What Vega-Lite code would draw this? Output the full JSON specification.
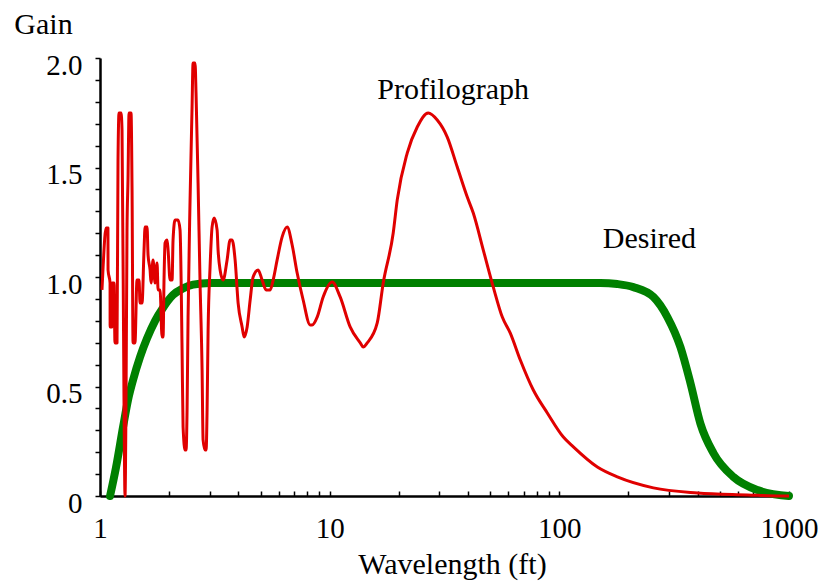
{
  "$schema": "https://vega.github.io/schema/vega-lite/v6.json",
  "width": 689,
  "height": 438,
  "autosize": {"type": "none"},
  "padding": {"left": 100, "top": 58, "right": 33, "bottom": 87},
  "background": "white",
  "config": {"view": {"stroke": null}, "font": "Liberation Serif"},
  "datasets": {
    "green": [
      {"x": 1.106, "y": 0},
      {"x": 1.174, "y": 0.13},
      {"x": 1.26, "y": 0.315},
      {"x": 1.324, "y": 0.438},
      {"x": 1.393, "y": 0.53},
      {"x": 1.494, "y": 0.635},
      {"x": 1.603, "y": 0.72},
      {"x": 1.737, "y": 0.8},
      {"x": 1.882, "y": 0.86},
      {"x": 2.08, "y": 0.918},
      {"x": 2.3, "y": 0.948},
      {"x": 2.542, "y": 0.965},
      {"x": 3.015, "y": 0.973},
      {"x": 150.9, "y": 0.973},
      {"x": 178.9, "y": 0.968},
      {"x": 210.1, "y": 0.954},
      {"x": 256.8, "y": 0.909},
      {"x": 295.5, "y": 0.817},
      {"x": 336.7, "y": 0.68},
      {"x": 372.2, "y": 0.516},
      {"x": 411.6, "y": 0.33},
      {"x": 468.8, "y": 0.196},
      {"x": 573.2, "y": 0.087},
      {"x": 729.2, "y": 0.027},
      {"x": 1000, "y": 0}
    ],
    "red": [
      {"i": 1, "x": 1.02, "y": 0.941},
      {"i": 2, "x": 1.031, "y": 1.041},
      {"i": 3, "x": 1.062, "y": 1.224},
      {"i": 4, "x": 1.083, "y": 1.224},
      {"i": 5, "x": 1.084, "y": 1.032},
      {"i": 6, "x": 1.106, "y": 0.973},
      {"i": 7, "x": 1.107, "y": 0.772},
      {"i": 8, "x": 1.128, "y": 0.772},
      {"i": 9, "x": 1.129, "y": 0.973},
      {"i": 10, "x": 1.151, "y": 0.973},
      {"i": 11, "x": 1.162, "y": 0.699},
      {"i": 12, "x": 1.186, "y": 0.699},
      {"i": 13, "x": 1.198, "y": 1.534},
      {"i": 14, "x": 1.21, "y": 1.749},
      {"i": 15, "x": 1.235, "y": 1.749},
      {"i": 16, "x": 1.247, "y": 1.671},
      {"i": 17, "x": 1.272, "y": 0.438},
      {"i": 18, "x": 1.285, "y": 0},
      {"i": 19, "x": 1.298, "y": 0.438},
      {"i": 20, "x": 1.311, "y": 1.215},
      {"i": 21, "x": 1.324, "y": 1.443},
      {"i": 22, "x": 1.338, "y": 1.749},
      {"i": 23, "x": 1.365, "y": 1.749},
      {"i": 24, "x": 1.379, "y": 1.397},
      {"i": 25, "x": 1.393, "y": 0.699},
      {"i": 26, "x": 1.42, "y": 0.699},
      {"i": 27, "x": 1.449, "y": 0.986},
      {"i": 28, "x": 1.479, "y": 0.986},
      {"i": 29, "x": 1.494, "y": 0.881},
      {"i": 30, "x": 1.524, "y": 0.881},
      {"i": 31, "x": 1.555, "y": 1.123},
      {"i": 32, "x": 1.571, "y": 1.228},
      {"i": 33, "x": 1.603, "y": 1.228},
      {"i": 34, "x": 1.619, "y": 1.1},
      {"i": 35, "x": 1.652, "y": 1.032},
      {"i": 36, "x": 1.668, "y": 0.973},
      {"i": 37, "x": 1.702, "y": 1.078},
      {"i": 38, "x": 1.737, "y": 0.973},
      {"i": 39, "x": 1.772, "y": 1.064},
      {"i": 40, "x": 1.79, "y": 0.941},
      {"i": 41, "x": 1.826, "y": 0.941},
      {"i": 42, "x": 1.863, "y": 0.726},
      {"i": 43, "x": 1.882, "y": 0.726},
      {"i": 44, "x": 1.901, "y": 1.0},
      {"i": 45, "x": 1.92, "y": 1.155},
      {"i": 46, "x": 1.959, "y": 1.169},
      {"i": 47, "x": 1.979, "y": 1.123},
      {"i": 48, "x": 2.019, "y": 0.986},
      {"i": 49, "x": 2.06, "y": 0.986},
      {"i": 50, "x": 2.08, "y": 1.169},
      {"i": 51, "x": 2.122, "y": 1.26},
      {"i": 52, "x": 2.187, "y": 1.26},
      {"i": 53, "x": 2.231, "y": 1.215},
      {"i": 54, "x": 2.277, "y": 0.667},
      {"i": 55, "x": 2.3, "y": 0.315},
      {"i": 56, "x": 2.347, "y": 0.21},
      {"i": 57, "x": 2.37, "y": 0.21},
      {"i": 58, "x": 2.394, "y": 0.393},
      {"i": 59, "x": 2.418, "y": 0.817},
      {"i": 60, "x": 2.467, "y": 1.352},
      {"i": 61, "x": 2.517, "y": 1.776},
      {"i": 62, "x": 2.542, "y": 1.977},
      {"i": 63, "x": 2.593, "y": 1.977},
      {"i": 64, "x": 2.619, "y": 1.84},
      {"i": 65, "x": 2.673, "y": 1.429},
      {"i": 66, "x": 2.727, "y": 0.973},
      {"i": 67, "x": 2.783, "y": 0.575},
      {"i": 68, "x": 2.811, "y": 0.256},
      {"i": 69, "x": 2.868, "y": 0.21},
      {"i": 70, "x": 2.897, "y": 0.21},
      {"i": 71, "x": 2.926, "y": 0.393},
      {"i": 72, "x": 2.956, "y": 0.758},
      {"i": 73, "x": 3.015, "y": 1.046},
      {"i": 74, "x": 3.076, "y": 1.228},
      {"i": 75, "x": 3.139, "y": 1.269},
      {"i": 76, "x": 3.235, "y": 1.215},
      {"i": 77, "x": 3.267, "y": 1.123},
      {"i": 78, "x": 3.334, "y": 1.032},
      {"i": 79, "x": 3.436, "y": 0.986},
      {"i": 80, "x": 3.576, "y": 1.078},
      {"i": 81, "x": 3.686, "y": 1.169},
      {"i": 82, "x": 3.76, "y": 1.169},
      {"i": 83, "x": 3.875, "y": 1.078},
      {"i": 84, "x": 3.994, "y": 0.881},
      {"i": 85, "x": 4.157, "y": 0.772},
      {"i": 86, "x": 4.242, "y": 0.726},
      {"i": 87, "x": 4.372, "y": 0.772},
      {"i": 88, "x": 4.506, "y": 0.895},
      {"i": 89, "x": 4.642, "y": 1.0},
      {"i": 90, "x": 4.881, "y": 1.032},
      {"i": 91, "x": 5.081, "y": 0.986},
      {"i": 92, "x": 5.288, "y": 0.941},
      {"i": 93, "x": 5.506, "y": 0.941},
      {"i": 94, "x": 5.674, "y": 0.986},
      {"i": 95, "x": 5.906, "y": 1.078},
      {"i": 96, "x": 6.21, "y": 1.183},
      {"i": 97, "x": 6.53, "y": 1.228},
      {"i": 98, "x": 6.866, "y": 1.146},
      {"i": 99, "x": 7.219, "y": 1.018},
      {"i": 100, "x": 7.666, "y": 0.895},
      {"i": 101, "x": 8.225, "y": 0.781},
      {"i": 102, "x": 8.391, "y": 0.781},
      {"i": 103, "x": 8.822, "y": 0.817},
      {"i": 104, "x": 9.369, "y": 0.909},
      {"i": 105, "x": 10.25, "y": 0.977},
      {"i": 106, "x": 11.11, "y": 0.909},
      {"i": 107, "x": 12.28, "y": 0.772},
      {"i": 108, "x": 13.59, "y": 0.699},
      {"i": 109, "x": 14.0, "y": 0.68},
      {"i": 110, "x": 14.57, "y": 0.699},
      {"i": 111, "x": 16.11, "y": 0.79},
      {"i": 112, "x": 17.11, "y": 0.973},
      {"i": 113, "x": 18.91, "y": 1.201},
      {"i": 114, "x": 19.69, "y": 1.352},
      {"i": 115, "x": 21.76, "y": 1.566},
      {"i": 116, "x": 24.06, "y": 1.685},
      {"i": 117, "x": 26.87, "y": 1.749},
      {"i": 118, "x": 29.4, "y": 1.717},
      {"i": 119, "x": 32.51, "y": 1.639},
      {"i": 120, "x": 35.94, "y": 1.502},
      {"i": 121, "x": 39.73, "y": 1.365},
      {"i": 122, "x": 42.2, "y": 1.292},
      {"i": 123, "x": 46.66, "y": 1.123},
      {"i": 124, "x": 51.58, "y": 0.954},
      {"i": 125, "x": 56.45, "y": 0.817},
      {"i": 126, "x": 61.16, "y": 0.744},
      {"i": 127, "x": 67.62, "y": 0.621},
      {"i": 128, "x": 77.03, "y": 0.484},
      {"i": 129, "x": 88.65, "y": 0.379},
      {"i": 130, "x": 104.1, "y": 0.269},
      {"i": 131, "x": 115.1, "y": 0.224},
      {"i": 132, "x": 146.4, "y": 0.132},
      {"i": 133, "x": 178.9, "y": 0.087},
      {"i": 134, "x": 256.8, "y": 0.037},
      {"i": 135, "x": 399.4, "y": 0.014},
      {"i": 136, "x": 659.5, "y": 0.005},
      {"i": 137, "x": 918, "y": 0},
      {"i": 138, "x": 1000, "y": 0}
    ],
    "labels": [
      {"x": 34.5, "y": 1.813, "label": "Profilograph"},
      {"x": 246.6, "y": 1.132, "label": "Desired"}
    ]
  },
  "encoding": {
    "x": {
      "field": "x",
      "type": "quantitative",
      "scale": {"type": "log", "domain": [1, 1000], "nice": false},
      "axis": {
        "title": "Wavelength (ft)",
        "values": [1, 2, 3, 4, 5, 6, 7, 8, 9, 10, 20, 30, 40, 50, 60, 70, 80, 90, 100, 200, 300, 400, 500, 600, 700, 800, 900, 1000],
        "labelExpr": "datum.value == 1 || datum.value == 10 || datum.value == 100 || datum.value == 1000 ? format(datum.value, 'd') : ''",
        "grid": false,
        "tickSize": -5,
        "tickColor": "black",
        "tickWidth": 1.5,
        "domainColor": "black",
        "domainWidth": 2.5,
        "labelFont": "Liberation Serif",
        "labelFontSize": 29,
        "labelColor": "black",
        "labelBaseline": "top",
        "labelPadding": 23,
        "labelFlush": false,
        "labelOverlap": false,
        "labelBound": false,
        "titleFont": "Liberation Serif",
        "titleFontSize": 30,
        "titleFontWeight": "normal",
        "titleColor": "black",
        "titleX": 352,
        "titleY": 77,
        "titleAlign": "center",
        "titleBaseline": "alphabetic"
      }
    },
    "y": {
      "field": "y",
      "type": "quantitative",
      "scale": {"domain": [0, 2], "nice": false, "zero": true},
      "axis": {
        "title": "Gain",
        "values": [0, 0.1, 0.2, 0.3, 0.4, 0.5, 0.6, 0.7, 0.8, 0.9, 1.0, 1.1, 1.2, 1.3, 1.4, 1.5, 1.6, 1.7, 1.8, 1.9, 2.0],
        "labelExpr": "abs(datum.value * 2 - round(datum.value * 2)) < 0.001 ? (datum.value == 0 ? '0' : format(datum.value, '.1f')) : ''",
        "grid": false,
        "tickSize": 5,
        "tickColor": "black",
        "tickWidth": 1.5,
        "domainColor": "black",
        "domainWidth": 2.5,
        "labelFont": "Liberation Serif",
        "labelFontSize": 29,
        "labelColor": "black",
        "labelBaseline": "middle",
        "labelPadding": 13,
        "labelOffset": 7,
        "labelFlush": false,
        "labelOverlap": false,
        "labelBound": false,
        "titleFont": "Liberation Serif",
        "titleFontSize": 30,
        "titleFontWeight": "normal",
        "titleColor": "black",
        "titleAngle": 0,
        "titleX": -57,
        "titleY": -25,
        "titleAlign": "center",
        "titleBaseline": "alphabetic"
      }
    }
  },
  "layer": [
    {
      "data": {"name": "green"},
      "mark": {"type": "line", "color": "#008000", "strokeWidth": 8, "strokeCap": "round", "strokeJoin": "round", "interpolate": "monotone"}
    },
    {
      "data": {"name": "red"},
      "mark": {"type": "line", "color": "#e00000", "strokeWidth": 3, "strokeJoin": "round", "interpolate": "monotone"},
      "encoding": {"order": {"field": "i", "type": "quantitative"}}
    },
    {
      "data": {"name": "labels"},
      "mark": {"type": "text", "font": "Liberation Serif", "fontSize": 30, "align": "center", "baseline": "alphabetic", "color": "black"},
      "encoding": {"text": {"field": "label", "type": "nominal"}}
    }
  ]
}
